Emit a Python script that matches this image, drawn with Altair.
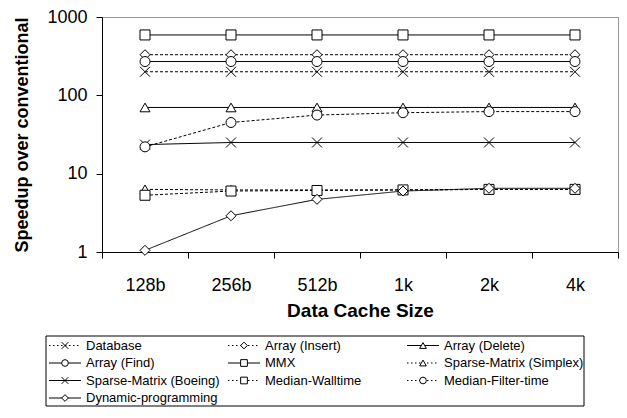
import altair as alt
import pandas as pd

# ---------------- data ----------------
cache_sizes = ["128b", "256b", "512b", "1k", "2k", "4k"]

series_names = [
    "Database", "Array (Insert)", "Array (Delete)",
    "Array (Find)", "MMX", "Sparse-Matrix (Simplex)",
    "Sparse-Matrix (Boeing)", "Median-Walltime", "Median-Filter-time",
    "Dynamic-programming",
]

database = [200, 200, 200, 200, 200, 200]
array_insert = [330, 330, 330, 330, 330, 330]
array_delete = [70, 70, 70, 70, 70, 70]
array_find = [270, 270, 270, 270, 270, 270]
mmx = [590, 590, 590, 590, 590, 590]
sparse_simplex = [6.3, 6.2, 6.2, 6.2, 6.3, 6.3]
sparse_boeing = [23.5, 25, 25, 25, 25, 25]
median_walltime = [5.3, 6.0, 6.1, 6.2, 6.3, 6.3]
median_filter = [22, 45, 56, 60, 62, 62]
dynamic_prog = [1.05, 2.9, 4.7, 6.0, 6.5, 6.5]

series_values = [database, array_insert, array_delete, array_find, mmx,
                 sparse_simplex, sparse_boeing, median_walltime,
                 median_filter, dynamic_prog]

line_styles = ["dotted", "dotted", "solid", "solid", "solid",
               "dotted", "solid", "dotted", "dotted", "solid"]
marker_names = ["x", "diamond", "triangle-up", "circle", "square",
                "triangle-up", "x", "square", "circle", "diamond"]

# ---------------- styling / layout ----------------
X_PATH = "M-1,-1L1,1M-1,1L1,-1"
shape_range = [X_PATH if m == "x" else m for m in marker_names]
plot_dash = [[3, 2] if s == "dotted" else [1, 0] for s in line_styles]
legend_dash = [[1.5, 2.5] if s == "dotted" else [1, 0] for s in line_styles]
FONT = "Liberation Sans"

W, H = 516, 235                 # plot area
LEG_W, LEG_H = 538, 70          # legend box
LEG_LEFT = -56                  # legend box left, relative to plot left
LEG_TOP = H + 84                # legend box top, relative to plot top

rows = []
for name, vals in zip(series_names, series_values):
    for c, v in zip(cache_sizes, vals):
        rows.append({"series": name, "cache": c, "value": v})
df = pd.DataFrame(rows)

x_enc = alt.X(
    "cache:N", sort=cache_sizes,
    scale=alt.Scale(type="band", paddingInner=0, paddingOuter=0),
    axis=alt.Axis(title="Data Cache Size", tickBand="extent", labelAngle=0,
                  labelFontSize=18, labelPadding=18, tickSize=6,
                  titleFontSize=19, titlePadding=7),
)
y_enc = alt.Y(
    "value:Q",
    scale=alt.Scale(type="log", domain=[1, 1000], nice=False),
    axis=alt.Axis(title="Speedup over conventional", values=[1, 10, 100, 1000],
                  format="d", labelFontSize=18, labelPadding=9, tickSize=6,
                  titleFontSize=18, titlePadding=15),
)

shape_enc = alt.Shape("series:N",
                      scale=alt.Scale(domain=series_names, range=shape_range),
                      legend=None)

base = alt.Chart(df).encode(x=x_enc, y=y_enc)
lines = base.mark_line(color="black", strokeWidth=1).encode(
    strokeDash=alt.StrokeDash("series:N",
                              scale=alt.Scale(domain=series_names, range=plot_dash),
                              legend=None),
    detail="series:N")
points = base.mark_point(fill="white", stroke="black", strokeWidth=1,
                         fillOpacity=1, opacity=1, size=100).encode(shape=shape_enc)
main = alt.layer(lines, points)

# ---------------- legend (positions derived from entry index) ----------------
leg_rows = []
for i, name in enumerate(series_names):
    col, row = i % 3, i // 3
    x0 = 3 + 179 * col
    leg_rows.append({"series": name, "x0": x0, "x1": x0 + 32, "xm": x0 + 16,
                     "xt": x0 + 37, "ly": 9.5 + 17.5 * row})
leg_df = pd.DataFrame(leg_rows)
box_df = pd.DataFrame([{"bx0": 0, "bx1": LEG_W, "by0": 0, "by1": LEG_H}])

lx = alt.Scale(domain=[0, LEG_W], range=[LEG_LEFT, LEG_LEFT + LEG_W],
               nice=False, zero=False)
ly = alt.Scale(domain=[0, LEG_H], range=[LEG_TOP, LEG_TOP + LEG_H],
               nice=False, zero=False)

leg_box = alt.Chart(box_df).mark_rect(fill="white", fillOpacity=0,
                                      stroke="black", strokeWidth=1).encode(
    x=alt.X("bx0:Q", scale=lx, axis=None), x2="bx1:Q",
    y=alt.Y("by0:Q", scale=ly, axis=None), y2="by1:Q",
)
leg_base = alt.Chart(leg_df)
leg_rules = leg_base.mark_rule(color="black", strokeWidth=1).encode(
    x=alt.X("x0:Q", scale=lx, axis=None), x2="x1:Q",
    y=alt.Y("ly:Q", scale=ly, axis=None),
    strokeDash=alt.StrokeDash("series:N",
                              scale=alt.Scale(domain=series_names, range=legend_dash),
                              legend=None),
)
leg_pts = leg_base.mark_point(fill="white", stroke="black", strokeWidth=1,
                              fillOpacity=1, opacity=1, size=45).encode(
    x=alt.X("xm:Q", scale=lx, axis=None),
    y=alt.Y("ly:Q", scale=ly, axis=None),
    shape=shape_enc,
)
leg_text = leg_base.mark_text(align="left", baseline="middle", fontSize=13,
                              font=FONT, color="black").encode(
    x=alt.X("xt:Q", scale=lx, axis=None),
    y=alt.Y("ly:Q", scale=ly, axis=None),
    text="series:N",
)
legend = alt.layer(leg_box, leg_rules, leg_pts, leg_text)

chart = alt.layer(main, legend).resolve_scale(
    x="independent", y="independent", strokeDash="independent"
).properties(
    width=W, height=H,
    padding={"left": 5, "top": 0, "right": 0, "bottom": 0},
    view=alt.ViewBackground(stroke="#999999", strokeWidth=1),
).configure(font=FONT).configure_axis(
    grid=False, domainColor="black", tickColor="black", labelColor="black",
    titleColor="black", labelFont=FONT, titleFont=FONT, titleFontWeight="bold",
    domainWidth=1, tickWidth=1,
)

chart.save("out.html", embed_options={"renderer": "svg", "actions": False})
